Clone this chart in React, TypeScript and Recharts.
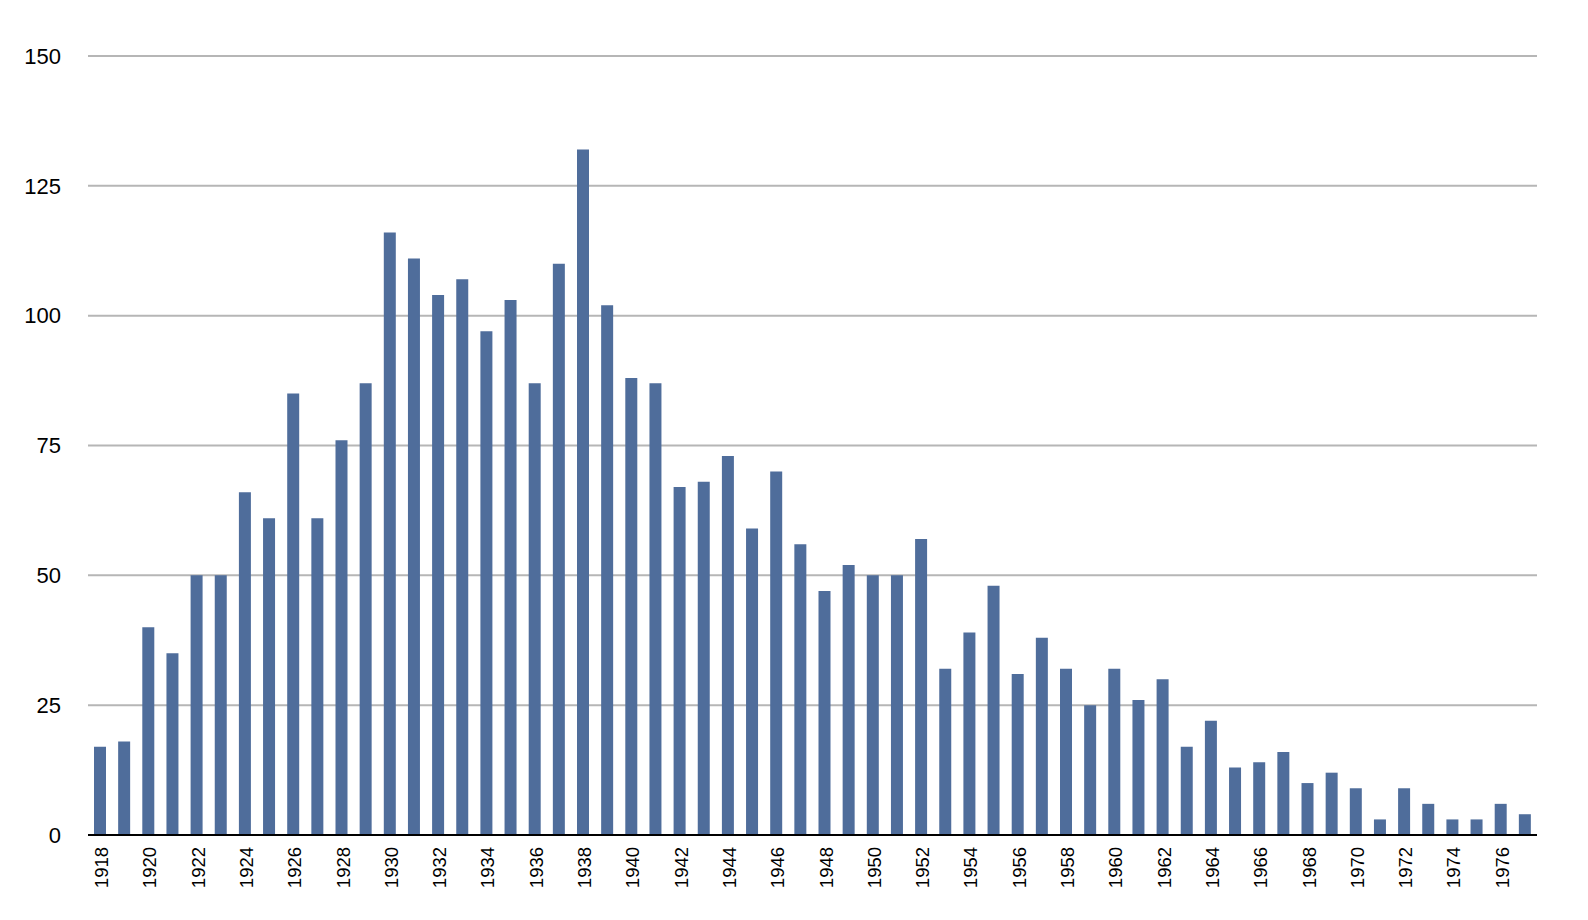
import React from 'react';
import { BarChart, Bar, XAxis, YAxis, CartesianGrid } from 'recharts';

const years = [
  1918, 1919, 1920, 1921, 1922, 1923, 1924, 1925, 1926, 1927,
  1928, 1929, 1930, 1931, 1932, 1933, 1934, 1935, 1936, 1937,
  1938, 1939, 1940, 1941, 1942, 1943, 1944, 1945, 1946, 1947,
  1948, 1949, 1950, 1951, 1952, 1953, 1954, 1955, 1956, 1957,
  1958, 1959, 1960, 1961, 1962, 1963, 1964, 1965, 1966, 1967,
  1968, 1969, 1970, 1971, 1972, 1973, 1974, 1975, 1976, 1977,
];

const counts = [
  17, 18, 40, 35, 50, 50, 66, 61, 85, 61,
  76, 87, 116, 111, 104, 107, 97, 103, 87, 110,
  132, 102, 88, 87, 67, 68, 73, 59, 70, 56,
  47, 52, 50, 50, 57, 32, 39, 48, 31, 38,
  32, 25, 32, 26, 30, 17, 22, 13, 14, 16,
  10, 12, 9, 3, 9, 6, 3, 3, 6, 4,
];

const yTicks = [0, 25, 50, 75, 100, 125, 150];

const data = years.map((year, i) => ({ year: String(year), count: counts[i] }));

const FONT = '"Liberation Sans", Arial, Helvetica, sans-serif';

// year labels read bottom-to-top, right-aligned against the axis
function YearTick(props: any) {
  const { x, y, payload } = props;
  return (
    <text
      x={0}
      y={0}
      transform={`translate(${x + 8}, ${y + 4}) rotate(-90)`}
      textAnchor="end"
      fontFamily={FONT}
      fontSize={18.5}
      fill="#000"
    >
      {payload.value}
    </text>
  );
}

export default function App() {
  return (
    <div
      style={{
        position: 'absolute',
        left: 0,
        top: 0,
        width: 1588,
        height: 920,
        overflow: 'hidden',
        background: '#fff',
      }}
    >
      <BarChart
        width={1588}
        height={920}
        data={data}
        margin={{ top: 56, right: 51, left: 0, bottom: 0 }}
        barSize={12}
        style={{ display: 'block' }}
      >
        <CartesianGrid vertical={false} stroke="#b6b6b6" strokeWidth={2} />
        <XAxis
          dataKey="year"
          interval={1}
          height={85}
          tickLine={false}
          axisLine={{ stroke: '#000', strokeWidth: 2 }}
          tick={<YearTick />}
        />
        <YAxis
          domain={[0, 150]}
          ticks={yTicks}
          width={88}
          axisLine={false}
          tickLine={false}
          tickMargin={21}
          tick={{ fontFamily: FONT, fontSize: 22, fill: '#000' }}
        />
        <Bar dataKey="count" fill="#4f6d9b" isAnimationActive={false} />
      </BarChart>
    </div>
  );
}
